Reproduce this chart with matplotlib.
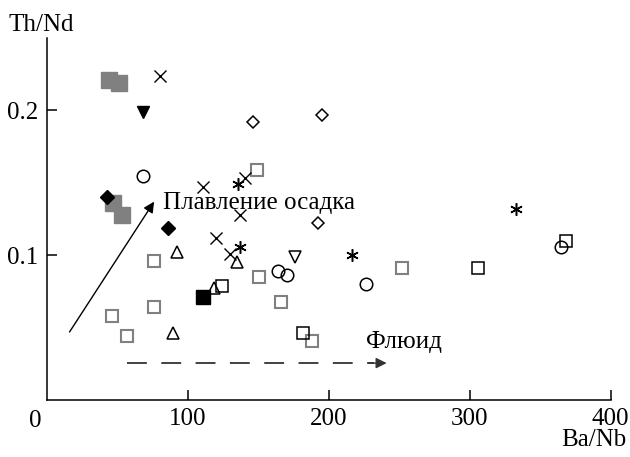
import matplotlib
matplotlib.use('Agg')
import matplotlib.pyplot as plt

plt.rcParams['font.family'] = ['Liberation Serif', 'DejaVu Serif']

# Ba/Nb (x) и Th/Nd (y) по группам значков
big_gray_x = [44, 51, 47, 53]
big_gray_y = [0.221, 0.219, 0.136, 0.128]
gray_open_x = [76, 76, 46, 57, 150.5, 166, 188, 149, 252]
gray_open_y = [0.096, 0.064, 0.058, 0.044, 0.085, 0.068, 0.041, 0.159, 0.091]
open_sq_x = [124, 182, 306, 368]
open_sq_y = [0.079, 0.046, 0.091, 0.110]
black_sq_x = [111]
black_sq_y = [0.071]
black_diam_x = [42.5, 86]
black_diam_y = [0.1405, 0.119]
open_diam_x = [146, 195, 192]
open_diam_y = [0.192, 0.197, 0.122]
black_tri_x = [68]
black_tri_y = [0.199]
open_tri_dn_x = [176]
open_tri_dn_y = [0.099]
open_tri_x = [92, 89.5, 118.5, 135]
open_tri_y = [0.102, 0.046, 0.0775, 0.095]
circle_x = [68, 164, 170, 226, 365]
circle_y = [0.155, 0.089, 0.0865, 0.080, 0.106]
cross_x = [80, 111, 137, 120, 130, 140.5]
cross_y = [0.224, 0.147, 0.128, 0.112, 0.101, 0.1535]
star_x = [333, 216.5, 137, 135.5]
star_y = [0.132, 0.100, 0.106, 0.1495]

gray = '#808080'

fig = plt.figure(figsize=(6.3, 4.57), dpi=100)
ax = fig.add_axes([0.0746, 0.1247, 0.8948, 0.7921])

ax.plot(big_gray_x, big_gray_y, 's', ms=12, mfc=gray, mec=gray, ls='none')
ax.plot(gray_open_x, gray_open_y, 's', ms=8, mfc='white', mec=gray, mew=1.5, ls='none')
ax.plot(open_sq_x, open_sq_y, 's', ms=8.5, mfc='none', mec='black', mew=1.1, ls='none')
ax.plot(black_sq_x, black_sq_y, 's', ms=9.5, color='black', ls='none')
ax.plot(black_diam_x, black_diam_y, 'D', ms=7, color='black', ls='none')
ax.plot(open_diam_x, open_diam_y, 'D', ms=6.5, mfc='none', mec='black', mew=1.1, ls='none')
ax.plot(black_tri_x, black_tri_y, 'v', ms=8, color='black', ls='none')
ax.plot(open_tri_dn_x, open_tri_dn_y, 'v', ms=8, mfc='none', mec='black', mew=1.1, ls='none')
ax.plot(open_tri_x, open_tri_y, '^', ms=8, mfc='none', mec='black', mew=1.1, ls='none')
ax.plot(circle_x, circle_y, 'o', ms=9, mfc='none', mec='black', mew=1.1, ls='none')
ax.plot(cross_x, cross_y, 'x', ms=8.5, color='black', mew=1.0, ls='none')
ax.plot(star_x, star_y, marker=(6, 2, 0), ms=9, color='black', mew=1.1, ls='none')

# стрелка плавления осадка
ax.annotate('', xy=(76, 0.137), xytext=(16, 0.047),
            arrowprops=dict(arrowstyle='-|>', color='black', lw=1.0,
                            mutation_scale=16, shrinkA=0, shrinkB=0))
ax.text(82, 0.136, 'Плавление осадка', fontsize=18, va='center', ha='left')

# пунктирная стрелка флюида
ax.plot([57, 232], [0.0255, 0.0255], color='#333333', lw=1.3, dashes=(11, 8))
ax.annotate('', xy=(241, 0.0255), xytext=(228, 0.0255),
            arrowprops=dict(arrowstyle='-|>', color='#333333', lw=1.0,
                            mutation_scale=16, shrinkA=0, shrinkB=0))
ax.text(226, 0.040, 'Флюид', fontsize=18, va='center', ha='left')

ax.set_xlim(0, 400)
ax.set_ylim(0, 0.25)
ax.set_xticks([100, 200, 300, 400])
ax.set_yticks([0.1, 0.2])
ax.set_yticklabels(['0.1', '0.2'])
ax.tick_params(direction='in', length=7, width=1.1, labelsize=18, pad=6)
for s in ['top', 'right']:
    ax.spines[s].set_visible(False)
for s in ['left', 'bottom']:
    ax.spines[s].set_linewidth(1.1)

ax.text(-8.5, -0.007, '0', fontsize=18, ha='center', va='top', clip_on=False)
fig.text(0.013, 0.945, 'Th/Nd', fontsize=18, ha='left', va='center')
fig.text(0.995, 0.037, 'Ba/Nb', fontsize=18, ha='right', va='center')

fig.savefig('out.png', dpi=100)
